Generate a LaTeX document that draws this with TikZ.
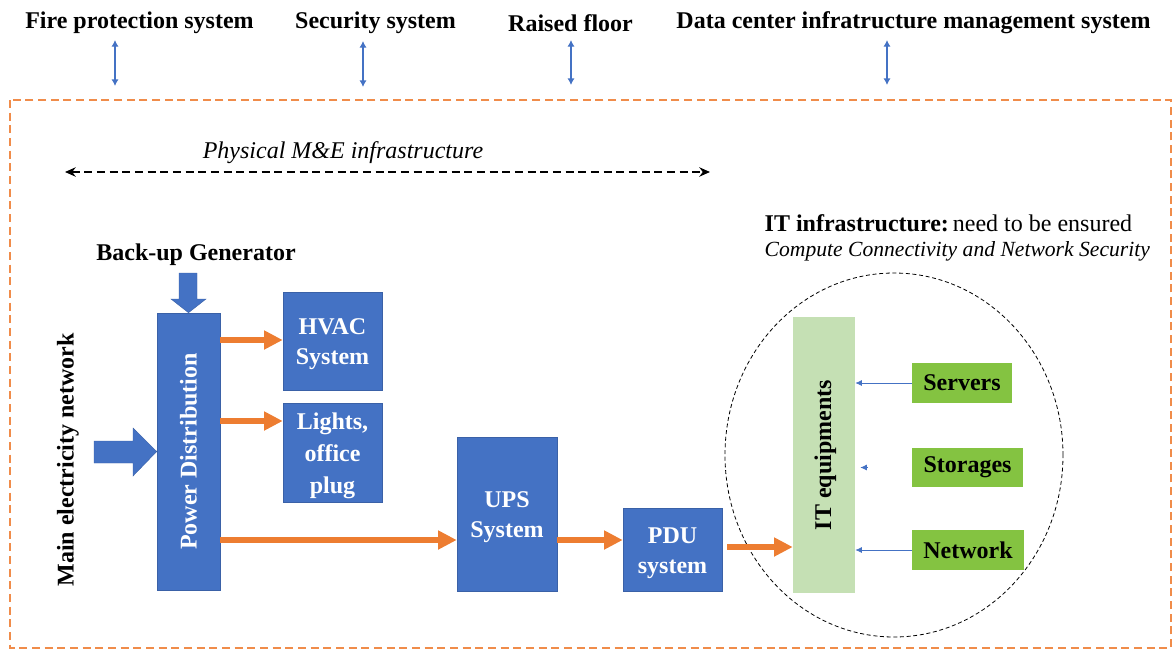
\documentclass[tikz,border=0pt]{standalone}
\usepackage{fontspec}
\setmainfont{Liberation Serif}
\usetikzlibrary{arrows.meta,calc,shapes.geometric}

\definecolor{boxblue}{HTML}{4472C4}
\definecolor{flow}{HTML}{ED7D31}
\definecolor{frame}{HTML}{F08C4A}
\definecolor{itgreen}{HTML}{C5E0B4}
\definecolor{compgreen}{HTML}{84C341}

\tikzset{
  big/.style={font=\fontsize{18}{22.5}\selectfont\bfseries},
  blk/.style={big, fill=boxblue, draw=boxblue!85!black, line width=0.4pt,
    text=white, align=center, inner sep=0pt},
  comp/.style={big, fill=compgreen, draw=none, text=black, inner sep=0pt},
  flowarrow/.style={draw=flow, line width=3.8pt,
    -{Triangle[length=14pt,width=13.5pt]}},
  linkarrow/.style={draw=boxblue, line width=1.5pt,
    {Latex[length=5pt,width=5.5pt]}-{Latex[length=5pt,width=5.5pt]}},
  feedarrow/.style={draw=boxblue, line width=0.6pt,
    -{Latex[length=5pt,width=4.5pt]}},
  blockarrow/.style={fill=boxblue, draw=boxblue!85!black, line width=0.3pt},
}

\begin{document}
\begin{tikzpicture}[x=0.75pt, y=-0.75pt]
\useasboundingbox (0,0) rectangle (1174,650);

% surrounding systems
\node[big] (fire) at (139.5,23) {Fire protection system};
\node[big] (sec)  at (375.5,23) {Security system};
\node[big] (floor) at (570.5,23) {Raised floor};
\node[big] (dcim) at (913.5,23) {Data center infratructure management system};

\coordinate (f1) at (115,40);  \coordinate (f2) at (115,86);
\coordinate (s1) at (363,41);  \coordinate (s2) at (363,87);
\coordinate (r1) at (571,40);  \coordinate (r2) at (571,85);
\coordinate (d1) at (887,40);  \coordinate (d2) at (887,85);
\draw[linkarrow] (f1) -- (f2);
\draw[linkarrow] (s1) -- (s2);
\draw[linkarrow] (r1) -- (r2);
\draw[linkarrow] (d1) -- (d2);

% data centre boundary
\draw[frame, line width=1.6pt, dash pattern=on 6pt off 3.5pt]
  (10,100) rectangle (1171,648);

% physical M&E span
\node[font=\fontsize{18}{22}\selectfont\itshape] (phys) at (343,153) {Physical M\&E infrastructure};
\coordinate (m1) at (65,172); \coordinate (m2) at (710,172);
\draw[black, line width=1.5pt, dash pattern=on 6pt off 3.5pt,
  {Stealth[length=8pt,width=7pt]}-{Stealth[length=8pt,width=7pt]}] (m1) -- (m2);

% IT infrastructure heading
\node[anchor=west, font=\fontsize{18}{22}\selectfont] (ithead) at (760,223)
  {\textbf{IT infrastructure:}\,need to be ensured};
\node[anchor=west, font=\fontsize{16.2}{20}\selectfont\itshape] (itsub) at (760,251)
  {Compute Connectivity and Network Security};

% power chain (labels sit slightly below the box centre)
\node[blk, minimum width=47.25pt, minimum height=207.75pt] (pd) at (188.5,451.5) {};
\node[rotate=90, big, text=white] at (pd.center) {Power Distribution};
\node[blk, minimum width=74.25pt, minimum height=73.5pt] (hvac) at (332.5,341) {};
\node[big, text=white, align=center] at ([yshift=-2.5pt]hvac.center) {HVAC\\System};
\node[blk, minimum width=74.25pt, minimum height=74.25pt] (lights) at (332.5,452.5) {};
\node[text=white, align=center, font=\fontsize{18}{24}\selectfont\bfseries]
  at ([yshift=-2.5pt]lights.center) {Lights,\\office\\plug};
\node[blk, minimum width=75pt, minimum height=115.5pt] (ups) at (507,514) {};
\node[big, text=white, align=center] at ([yshift=-2.5pt]ups.center) {UPS\\System};
\node[blk, minimum width=74.25pt, minimum height=62.25pt] (pdu) at (672.5,549.5) {};
\node[big, text=white, align=center] at ([yshift=-2.5pt]pdu.center) {PDU\\system};

\node[big] (gen) at (196,255) {Back-up Generator};
\node[big, rotate=90] (mains) at (68,460) {Main electricity network};

% block arrows feeding the power distribution
\fill[blockarrow] (179,273) -- (197,273) -- (197,299) -- (206,299)
  -- (pd.north) -- (171,299) -- (179,299) -- cycle;
\fill[blockarrow] (94,441) -- (133,441) -- (133,428) -- (pd.west)
  -- (133,476) -- (133,463) -- (94,463) -- cycle;

% power flows
\coordinate (y1) at (0,340);
\coordinate (y2) at (0,421);
\coordinate (y3) at (0,540);
\coordinate (y4) at (0,547);
\draw[flowarrow] (pd.east |- y1) -- (hvac.west |- y1);
\draw[flowarrow] (pd.east |- y2) -- (lights.west |- y2);
\draw[flowarrow] (pd.east |- y3) -- (ups.west |- y3);
\draw[flowarrow] (ups.east |- y3) -- (pdu.west |- y3);

% IT equipment zone
\node[draw, ellipse, densely dashed, line width=0.6pt, inner sep=0pt,
  minimum width=253.5pt, minimum height=273pt] (zone) at (894,455) {};
\node[fill=itgreen, minimum width=46.5pt, minimum height=207pt, inner sep=0pt] (it) at (824,455) {};
\node[rotate=90, big] at ([xshift=1pt]it.center) {IT equipments};

\draw[flowarrow, shorten <=3.75pt] (pdu.east |- y4) -- (it.west |- y4);

\node[comp, minimum width=75pt, minimum height=30pt] (srv) at (962,383) {Servers};
\node[comp, minimum width=83.25pt, minimum height=29.25pt] (sto) at (967.5,467.5) {Storages};
\node[comp, minimum width=84pt, minimum height=30pt] (net) at (968,550) {Network};

\draw[feedarrow] (srv.west) -- (it.east |- srv.west);
\draw[feedarrow] (net.west) -- (it.east |- net.west);
\coordinate (stotip) at ($(it.east |- sto.west)+(5,0)$);
\draw[feedarrow, shorten <=0pt] ($(stotip)+(7,0)$) -- (stotip);
\end{tikzpicture}
\end{document}
